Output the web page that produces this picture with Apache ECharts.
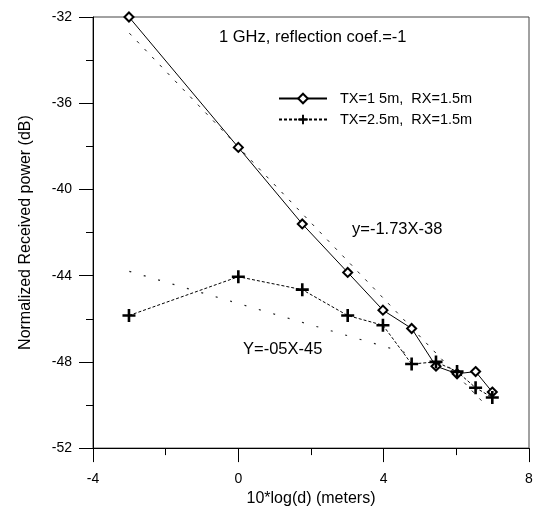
<!DOCTYPE html>
<html>
<head>
<meta charset="utf-8">
<script src="https://cdn.jsdelivr.net/npm/echarts@6/dist/echarts.min.js"></script>
<style>html,body{margin:0;padding:0;background:#fff;}#c{width:538px;height:512px;}</style>
</head>
<body>
<div id="c"></div>
<script>
// x = 10*log(d)
const xValues = [-3.01, 0, 1.76, 3.01, 3.98, 4.77, 5.44, 6.02, 6.53, 6.99];
const tx15 = [-32.0, -38.05, -41.6, -43.85, -45.6, -46.45, -48.2, -48.55, -48.45, -49.4];
const tx25 = [-45.85, -44.05, -44.65, -45.85, -46.3, -48.1, -48.0, -48.45, -49.2, -49.65];
const fit1X = [-3.0, 6.75];
const fit1Y = [-32.75, -49.9];
const fit2X = [-3.0, 4.85];
const fit2Y = [-43.8, -47.7];
const xTicks = [-4, 0, 4, 8];
const yTicks = [-52, -48, -44, -40, -36, -32];

const pair = (xs, ys) => xs.map((x, i) => [x, ys[i]]);
const FONT = 'Liberation Sans, Arial, Helvetica, sans-serif';
const plus = 'path://M4,0H6V4H10V6H6V10H4V6H0V4H4Z';

const chart = echarts.init(document.getElementById('c'));
chart.setOption({
  animation: false,
  backgroundColor: '#fff',
  textStyle: {fontFamily: FONT, color: '#000'},
  grid: {left: 93, right: 9, top: 17, bottom: 59, show: true, borderColor: '#444', borderWidth: 1},
  xAxis: {
    type: 'value', min: xTicks[0], max: xTicks[xTicks.length - 1], interval: 4,
    name: '10*log(d) (meters)', nameLocation: 'middle', nameGap: 41,
    nameTextStyle: {fontSize: 16, color: '#000', fontFamily: FONT},
    axisLine: {onZero: false, lineStyle: {color: '#000', width: 1}},
    axisTick: {length: 14, lineStyle: {color: '#000'}},
    minorTick: {show: true, splitNumber: 2, length: 7, lineStyle: {color: '#000'}},
    axisLabel: {fontSize: 14, color: '#000', margin: 24, fontFamily: FONT},
    splitLine: {show: false}
  },
  yAxis: {
    type: 'value', min: yTicks[0], max: yTicks[yTicks.length - 1], interval: 4,
    name: 'Normalized Received power (dB)', nameLocation: 'middle', nameGap: 59,
    nameTextStyle: {fontSize: 16, color: '#000', fontFamily: FONT},
    axisLine: {show: true, onZero: false, lineStyle: {color: '#000', width: 1}},
    axisTick: {length: 14, lineStyle: {color: '#000'}},
    minorTick: {show: true, splitNumber: 2, length: 7, lineStyle: {color: '#000'}},
    axisLabel: {fontSize: 14, color: '#000', margin: 21, fontFamily: FONT},
    splitLine: {show: false}
  },
  legend: {
    orient: 'vertical', left: 273, top: 86, itemWidth: 48, itemHeight: 12, itemGap: 6,
    data: ['TX=1 5m,  RX=1.5m', 'TX=2.5m,  RX=1.5m'],
    textStyle: {fontSize: 14.5, color: '#000', fontFamily: FONT, padding: [0, 0, 0, 8]}
  },
  graphic: [
    {type: 'text', left: 219, top: 29, style: {text: '1 GHz, reflection coef.=-1', font: '16.5px ' + FONT, fill: '#000'}},
    {type: 'text', left: 352, top: 221, style: {text: 'y=-1.73X-38', font: '16.5px ' + FONT, fill: '#000'}},
    {type: 'text', left: 243, top: 341, style: {text: 'Y=-05X-45', font: '16.5px ' + FONT, fill: '#000'}}
  ],
  series: [
    {
      name: 'fit1', type: 'line', data: pair(fit1X, fit1Y), symbol: 'none',
      lineStyle: {color: '#222', width: 1, type: [3, 8]}, z: 1
    },
    {
      name: 'fit2', type: 'line', data: pair(fit2X, fit2Y), symbol: 'none',
      lineStyle: {color: '#222', width: 1.2, type: [2, 13]}, z: 1
    },
    {
      name: 'TX=1 5m,  RX=1.5m', type: 'line', data: pair(xValues, tx15),
      symbol: 'diamond', symbolSize: 9,
      itemStyle: {color: '#fff', borderColor: '#000', borderWidth: 2},
      lineStyle: {color: '#000', width: 1}, z: 3
    },
    {
      name: 'TX=2.5m,  RX=1.5m', type: 'line', data: pair(xValues, tx25),
      symbol: plus, symbolSize: 13,
      itemStyle: {color: '#000'},
      lineStyle: {color: '#000', width: 1, type: [3, 2]}, z: 4
    }
  ]
});
</script>
</body>
</html>
